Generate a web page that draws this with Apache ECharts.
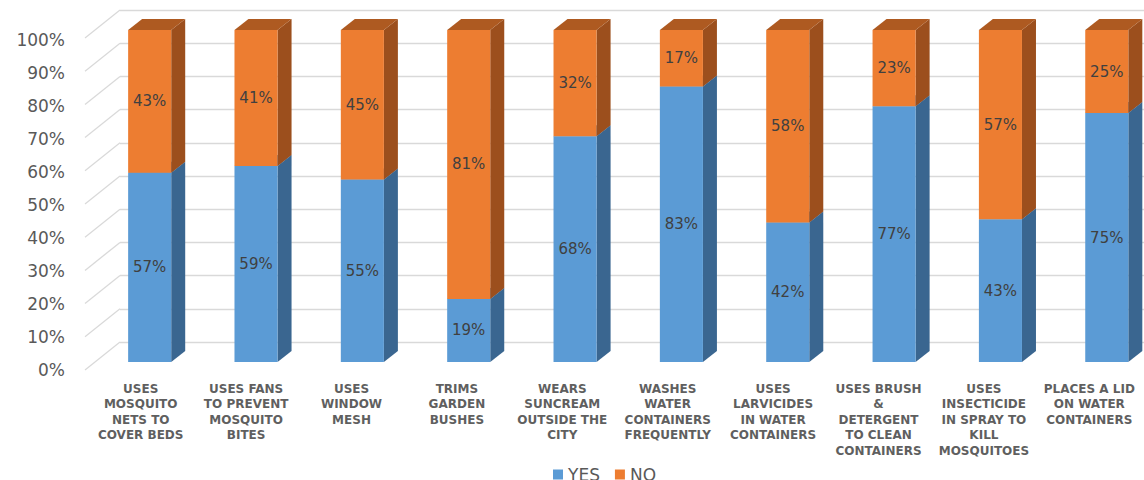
<!DOCTYPE html>
<html>
<head>
<meta charset="utf-8">
<script src="https://cdn.jsdelivr.net/npm/echarts@6/dist/echarts.min.js"></script>
<style>html,body{margin:0;padding:0;background:#fff;}#chart{width:1144px;height:480px;}</style>
</head>
<body>
<div id="chart"></div>
<script>
const categories = [
  "USES\nMOSQUITO\nNETS TO\nCOVER BEDS",
  "USES FANS\nTO PREVENT\nMOSQUITO\nBITES",
  "USES\nWINDOW\nMESH",
  "TRIMS\nGARDEN\nBUSHES",
  "WEARS\nSUNCREAM\nOUTSIDE THE\nCITY",
  "WASHES\nWATER\nCONTAINERS\nFREQUENTLY",
  "USES\nLARVICIDES\nIN WATER\nCONTAINERS",
  "USES BRUSH\n&\nDETERGENT\nTO CLEAN\nCONTAINERS",
  "USES\nINSECTICIDE\nIN SPRAY TO\nKILL\nMOSQUITOES",
  "PLACES A LID\nON WATER\nCONTAINERS"
];
const yesValues = [57, 59, 55, 19, 68, 83, 42, 77, 43, 75];
const noValues  = [43, 41, 45, 81, 32, 17, 58, 23, 57, 25];
const wallTicks = [0, 10, 20, 30, 40, 50, 60, 70, 80, 90, 100];

const FONT = '"DejaVu Sans", Verdana, sans-serif';
const DX = 14, DY = 11;

function barRenderer(front, side, top) {
  return function (params, api) {
    const i = api.value(0), lo = api.value(1), hi = api.value(2), val = api.value(3);
    const pLo = api.coord([i, lo]);
    const pHi = api.coord([i, hi]);
    const bw = api.size([1, 0])[0] * 0.405;
    const x0 = pLo[0] - bw / 2, x1 = x0 + bw;
    const yB = pLo[1], yT = pHi[1];
    return {
      type: 'group',
      children: [
        { type: 'polygon', shape: { points: [[x1, yB], [x1 + DX, yB - DY], [x1 + DX, yT - DY], [x1, yT]] }, style: { fill: side } },
        { type: 'polygon', shape: { points: [[x0, yT], [x1, yT], [x1 + DX, yT - DY], [x0 + DX, yT - DY]] }, style: { fill: top } },
        { type: 'rect', shape: { x: x0, y: yT, width: bw, height: yB - yT }, style: { fill: front } },
        { type: 'text', style: { text: val + '%', x: x0 + bw / 2, y: (yT + yB) / 2, align: 'center', verticalAlign: 'middle', fill: '#404040', font: '15px ' + FONT } }
      ]
    };
  };
}

const chart = echarts.init(document.getElementById('chart'), null, { renderer: 'svg' });
chart.setOption({
  animation: false,
  backgroundColor: '#ffffff',
  legend: {
    data: ['YES', 'NO'],
    left: 548, top: 461,
    icon: 'rect', itemWidth: 10, itemHeight: 10, itemGap: 15,
    textStyle: { fontFamily: FONT, fontSize: 17, color: '#595959' }
  },
  grid: [
    { left: 88, top: 40, width: 1054, height: 330 },
    { left: 120, top: 10, width: 1024, height: 332 },
    { left: 96.5, top: 30, width: 1047.5, height: 332 }
  ],
  xAxis: [
    { type: 'category', gridIndex: 0, data: categories,
      axisLine: { show: false }, axisTick: { show: false },
      axisLabel: { interval: 0, margin: 11, fontFamily: FONT, fontSize: 12, fontWeight: 'bold', color: '#5f5f5f', lineHeight: 15.5 } },
    { type: 'value', gridIndex: 1, min: 0, max: 1, show: false },
    { type: 'value', gridIndex: 2, min: -0.5, max: 9.35, show: false }
  ],
  yAxis: [
    { type: 'value', gridIndex: 0, min: 0, max: 100, interval: 10,
      axisLine: { show: false }, axisTick: { show: false }, splitLine: { show: false },
      axisLabel: { formatter: '{value}%', margin: 23, fontFamily: FONT, fontSize: 17, color: '#595959' } },
    { type: 'value', gridIndex: 1, min: 0, max: 100, interval: 10,
      axisLine: { show: false }, axisTick: { show: false }, axisLabel: { show: false },
      splitLine: { show: true, lineStyle: { color: '#D9D9D9', width: 1.3 } } },
    { type: 'value', gridIndex: 2, min: 0, max: 100, show: false }
  ],
  series: [
    {
      type: 'custom', name: 'wall', xAxisIndex: 1, yAxisIndex: 1, silent: true,
      data: wallTicks.map(v => [0, v]),
      renderItem: function (params, api) {
        const y = api.coord([0, api.value(1)])[1];
        const x = params.coordSys.x;
        return { type: 'line', shape: { x1: x - 35, y1: y + 28, x2: x, y2: y }, style: { stroke: '#D9D9D9', lineWidth: 1.3 } };
      }
    },
    {
      type: 'custom', name: 'YES', xAxisIndex: 2, yAxisIndex: 2,
      itemStyle: { color: '#5B9BD5' },
      encode: { x: 0, y: [1, 2] },
      data: yesValues.map((v, i) => [i, 0, v, v]),
      renderItem: barRenderer('#5B9BD5', '#3A6690', '#4A80B2')
    },
    {
      type: 'custom', name: 'NO', xAxisIndex: 2, yAxisIndex: 2,
      itemStyle: { color: '#ED7D31' },
      encode: { x: 0, y: [1, 2] },
      data: noValues.map((v, i) => [i, yesValues[i], yesValues[i] + v, v]),
      renderItem: barRenderer('#ED7D31', '#9C4F1D', '#AE5A21')
    }
  ]
});
</script>
</body>
</html>
